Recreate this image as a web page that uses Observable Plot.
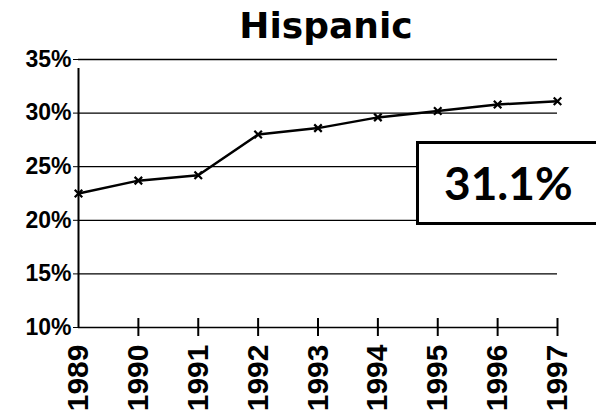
<!DOCTYPE html>
<html>
<head>
<meta charset="utf-8">
<script src="https://cdn.jsdelivr.net/npm/d3@7"></script>
<script src="https://cdn.jsdelivr.net/npm/@observablehq/plot@0.6"></script>
<style>
  html, body { margin: 0; padding: 0; background: #fff; overflow: hidden; }
  #wrap { position: relative; width: 596px; height: 418px; overflow: hidden; }
  #callout {
    position: absolute; left: 416px; top: 141px; width: 200px; height: 78px;
    border: 3px solid #000; background: #fff; box-sizing: content-box;
    font-family: "Lato", "Liberation Sans", sans-serif; font-weight: bold;
    font-size: 46px; line-height: 78px; padding-left: 25px; color: #000;
  }
</style>
</head>
<body>
<div id="wrap"></div>
<script>
const title = "Hispanic";
const years = [1989, 1990, 1991, 1992, 1993, 1994, 1995, 1996, 1997];
const values = [22.5, 23.7, 24.2, 28.0, 28.6, 29.6, 30.2, 30.8, 31.1];
const yTicks = [10, 15, 20, 25, 30, 35];

const data = years.map((year, i) => ({year, value: values[i]}));

const chart = Plot.plot({
  width: 596,
  height: 418,
  marginLeft: 78,
  marginRight: 39,
  marginTop: 59,
  marginBottom: 91,
  style: {fontFamily: "'Liberation Sans', Arial, sans-serif", color: "#000", background: "#fff"},
  x: {type: "linear", domain: [years[0], years[years.length - 1]]},
  y: {domain: [yTicks[0], yTicks[yTicks.length - 1]]},
  marks: [
    Plot.gridY(yTicks, {stroke: "#000", strokeOpacity: 1, strokeWidth: 1.3}),
    Plot.axisY(yTicks, {
      tickFormat: d => d + "%", tickSize: 5, tickPadding: 2,
      fontSize: 23, fontWeight: "bold", letterSpacing: "-2px", label: null
    }),
    Plot.ruleX([years[0]], {y1: yTicks[0], y2: yTicks[yTicks.length - 1], insetBottom: -9, stroke: "#000", strokeWidth: 2}),
    Plot.ruleX(years.slice(1), {y1: yTicks[0], y2: yTicks[0], insetTop: -9, insetBottom: -9, stroke: "#000", strokeWidth: 2}),
    Plot.axisX(years, {
      tickSize: 0, tickRotate: -90, tickPadding: 17, tickFormat: d => String(d),
      fontSize: 30, fontWeight: "bold", label: null
    }),
    Plot.line(data, {x: "year", y: "value", stroke: "#000", strokeWidth: 2.5}),
    Plot.dot(data, {x: "year", y: "value", symbol: "times", r: 3.5, stroke: "#000", strokeWidth: 2.2}),
    Plot.text([title], {
      frameAnchor: "top", lineAnchor: "middle", dy: -33, dx: 8, fontSize: 36, fontWeight: "bold",
      letterSpacing: "1.5px",
      fontFamily: "'DejaVu Sans', sans-serif", fill: "#000"
    })
  ]
});

const wrap = document.getElementById("wrap");
wrap.appendChild(chart);
const callout = document.createElement("div");
callout.id = "callout";
callout.textContent = values[values.length - 1].toFixed(1) + "%";
wrap.appendChild(callout);
</script>
</body>
</html>
